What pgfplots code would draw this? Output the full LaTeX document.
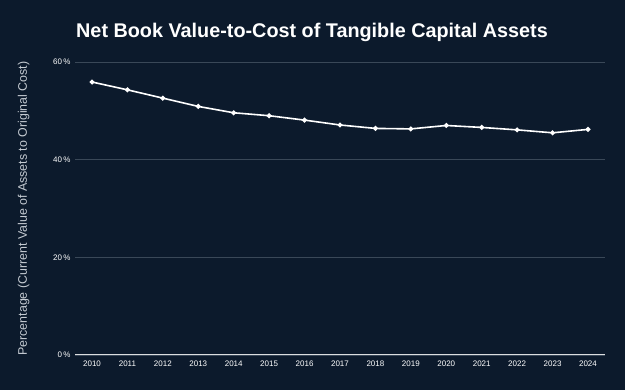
\documentclass[border=0pt]{standalone}
\usepackage{pgfplots}
\pgfplotsset{compat=1.18}
\usepackage{fontspec}
\setmainfont{Liberation Sans}
\definecolor{bg}{HTML}{0C1A2C}
\definecolor{gridc}{HTML}{3A4858}
\definecolor{labc}{HTML}{C5CBD2}
\begin{document}
\begin{tikzpicture}[x=1pt,y=1pt]
\fill[bg] (0,0) rectangle (625,390);
\path[use as bounding box] (0,0) rectangle (625,390);
\node[anchor=west,text=white,font=\fontsize{19.8}{22}\selectfont\bfseries,inner sep=0pt] at (76,358) {Net Book Value-to-Cost of Tangible Capital Assets};
\begin{axis}[
  at={(75pt,35pt)}, anchor=south west,
  scale only axis, width=530pt, height=293pt,
  xmin=-0.48, xmax=14.48, ymin=0, ymax=60,
  xtick={0,...,14},
  xticklabels={2010,2011,2012,2013,2014,2015,2016,2017,2018,2019,2020,2021,2022,2023,2024},
  ytick={0,20,40,60},
  yticklabel={\pgfmathprintnumber{\tick}\,\%},
  /pgf/number format/assume math mode=true,
  tick style={draw=none},
  ticklabel style={text=white,font=\fontsize{8}{9}\selectfont},
  xticklabel style={yshift=-2.5pt},
  yticklabel style={xshift=-1pt},
  axis line style={draw=none},
  axis x line*=bottom, axis y line*=left,
  ymajorgrids, grid style={gridc,line width=0.8pt},
  ylabel={Percentage (Current Value of Assets to Original Cost)},
  ylabel style={text=labc,font=\fontsize{12.4}{14}\selectfont, at={(axis description cs:-0.097,0.5)}, anchor=center},
  clip=false,
]
\draw[white!85!bg,line width=1pt] (axis cs:-0.48,0) -- (axis cs:14.48,0);
\addplot[white,line width=1.6pt,mark=*,mark size=1.6pt] coordinates {
(0,55.9)(1,54.3)(2,52.6)(3,50.9)(4,49.6)(5,49.0)(6,48.1)(7,47.1)(8,46.4)(9,46.3)(10,47.0)(11,46.6)(12,46.1)(13,45.5)(14,46.2)};
\end{axis}
\end{tikzpicture}
\end{document}
